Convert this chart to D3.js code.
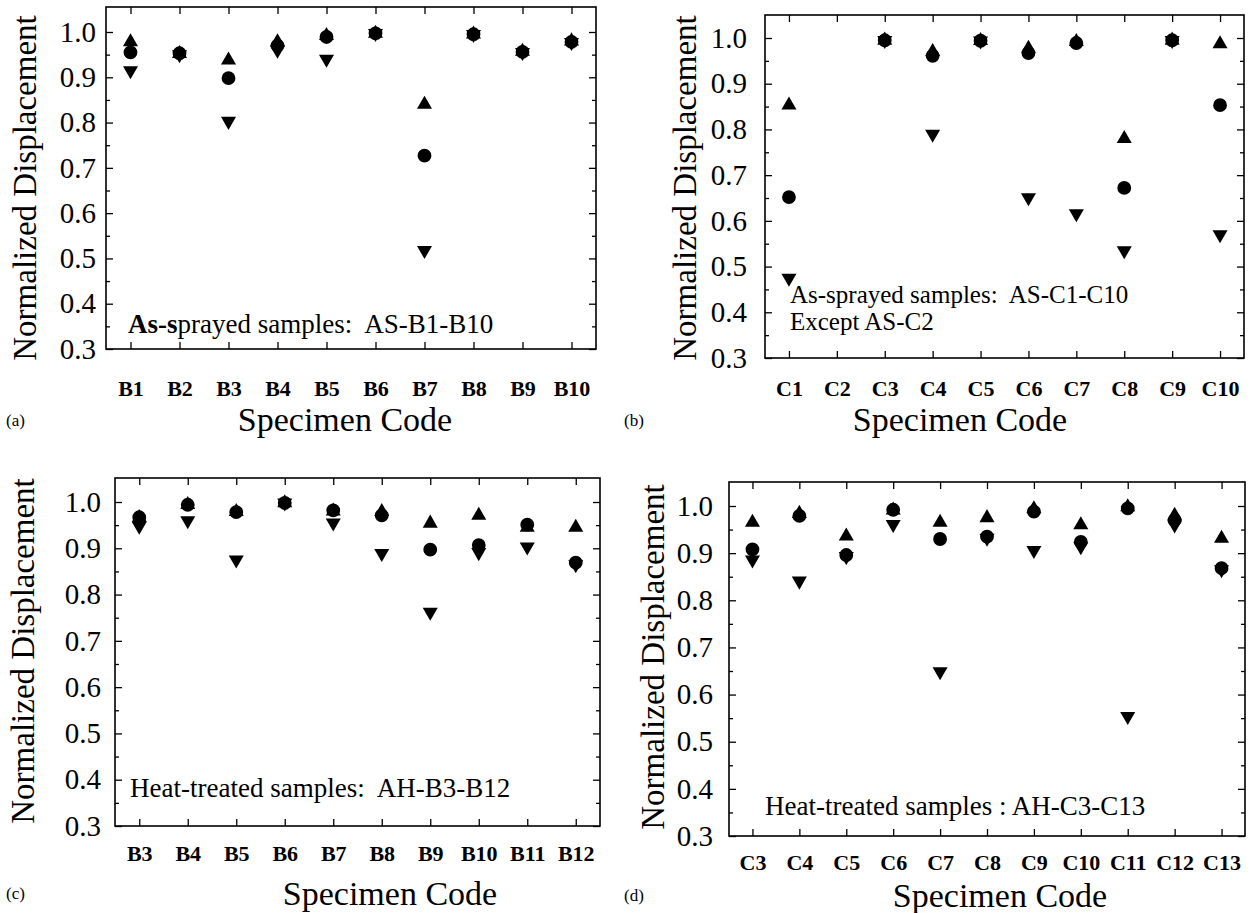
<!DOCTYPE html>
<html>
<head>
<meta charset="utf-8">
<script src="https://cdn.jsdelivr.net/npm/d3@7"></script>
<style>
  body { margin: 0; background: #fff; }
  svg { display: block; }
  text { font-family: "Liberation Serif", "Times New Roman", serif; fill: #000; white-space: pre; }
</style>
</head>
<body>
<div id="chart"></div>
<script>
// values: up triangle, dot, down triangle
const majorTicks = [0.3, 0.4, 0.5, 0.6, 0.7, 0.8, 0.9, 1.0]
const minorTicks = [0.35, 0.45, 0.55, 0.65, 0.75, 0.85, 0.95]

const codesA = ['B1', 'B2', 'B3', 'B4', 'B5', 'B6', 'B7', 'B8', 'B9', 'B10']
const upA   = [0.978, 0.952, 0.938, 0.978, 0.992, 0.997, 0.840, 0.995, 0.957, 0.980]
const dotA  = [0.955, 0.953, 0.898, 0.970, 0.989, 0.997, 0.727, 0.995, 0.956, 0.978]
const downA = [0.915, 0.950, 0.803, 0.960, 0.940, 0.997, 0.518, 0.995, 0.955, 0.977]

const codesB = ['C1', 'C2', 'C3', 'C4', 'C5', 'C6', 'C7', 'C8', 'C9', 'C10']
const upB   = [0.853, null, 0.995, 0.970, 0.994, 0.977, 0.992, 0.780, 0.995, 0.987]
const dotB  = [0.652, null, 0.995, 0.961, 0.994, 0.967, 0.989, 0.672, 0.995, 0.853]
const downB = [0.475, null, 0.995, 0.790, 0.994, 0.651, 0.616, 0.535, 0.995, 0.570]

const codesC = ['B3', 'B4', 'B5', 'B6', 'B7', 'B8', 'B9', 'B10', 'B11', 'B12']
const upC   = [0.966, 0.994, 0.979, 0.998, 0.980, 0.979, 0.954, 0.971, 0.945, 0.945]
const dotC  = [0.967, 0.994, 0.978, 0.998, 0.982, 0.971, 0.897, 0.907, 0.951, 0.869]
const downC = [0.948, 0.960, 0.875, 0.998, 0.955, 0.889, 0.762, 0.891, 0.903, 0.865]

const codesD = ['C3', 'C4', 'C5', 'C6', 'C7', 'C8', 'C9', 'C10', 'C11', 'C12', 'C13']
const upD   = [0.965, 0.984, 0.936, 0.991, 0.965, 0.975, 0.994, 0.960, 0.998, 0.980, 0.931]
const dotD  = [0.908, 0.979, 0.896, 0.992, 0.930, 0.935, 0.988, 0.924, 0.995, 0.970, 0.868]
const downD = [0.886, 0.841, 0.893, 0.961, 0.649, 0.932, 0.906, 0.914, 0.554, 0.960, 0.865]

const noteA = [[['As-s', true], ['prayed samples:  AS-B1-B10', false]]]
const noteB = [[['As-sprayed samples:  AS-C1-C10', false]], [['Except AS-C2', false]]]
const noteC = [[['Heat-treated samples:  AH-B3-B12', false]]]
const noteD = [[['Heat-treated samples : AH-C3-C13', false]]]

const yTitle = 'Normalized Displacement'
const xTitle = 'Specimen Code'

const panels = [
  { tag: '(a)', codes: codesA, up: upA, dot: dotA, down: downA, note: noteA,
    box: { l: 106, r: 596, t: 7, b: 349, y10: 32, pad: 10, catY: 396, titleX: 24, titleY: 188,
           tagX: 6, tagY: 426, codeX: 345, codeY: 431, noteX: 128, noteY: 333, noteSize: 27 } },
  { tag: '(b)', codes: codesB, up: upB, dot: dotB, down: downB, note: noteB,
    box: { l: 765, r: 1244, t: 15, b: 358, y10: 38, pad: 18, catY: 396, titleX: 684, titleY: 188,
           tagX: 624, tagY: 426, codeX: 960, codeY: 431, noteX: 790, noteY: 303, noteSize: 25 } },
  { tag: '(c)', codes: codesC, up: upC, dot: dotC, down: downC, note: noteC,
    box: { l: 115, r: 600, t: 478, b: 826, y10: 502, pad: 14, catY: 861, titleX: 22, titleY: 651,
           tagX: 6, tagY: 899, codeX: 390, codeY: 905, noteX: 130, noteY: 797, noteSize: 27 } },
  { tag: '(d)', codes: codesD, up: upD, dot: dotD, down: downD, note: noteD,
    box: { l: 729, r: 1245, t: 482, b: 836, y10: 506, pad: 16, catY: 870, titleX: 652, titleY: 657,
           tagX: 624, tagY: 901, codeX: 1000, codeY: 907, noteX: 765, noteY: 815, noteSize: 27 } }
]

const svg = d3.select('#chart')
    .append('svg')
    .attr('width', 1258)
    .attr('height', 913)

const triangle = d3.symbol().type(d3.symbolTriangle).size(98)
const circle = d3.symbol().type(d3.symbolCircle).size(150)

panels.forEach(drawPanel)

function drawPanel(p) {
  const bx = p.box
  const g = svg.append('g')

  const x = d3.scalePoint().domain(p.codes).range([bx.l, bx.r]).padding(0.5)
  const y = d3.scaleLinear().domain([0.3, 1.0]).range([bx.b, bx.y10])

  // ticks on all four sides, pointing inward
  const leftAxis = g.append('g')
      .attr('transform', 'translate(' + bx.l + ',0)')
      .call(d3.axisLeft(y).tickValues(majorTicks).tickSize(-7).tickPadding(bx.pad).tickFormat(d3.format('.1f')))
  leftAxis.selectAll('text').attr('font-size', 29)
  g.append('g')
      .attr('transform', 'translate(' + bx.l + ',0)')
      .call(d3.axisLeft(y).tickValues(minorTicks).tickSize(-4).tickFormat(''))
  g.append('g')
      .attr('transform', 'translate(' + bx.r + ',0)')
      .call(d3.axisRight(y).tickValues(majorTicks).tickSize(-7).tickFormat(''))
  g.append('g')
      .attr('transform', 'translate(' + bx.r + ',0)')
      .call(d3.axisRight(y).tickValues(minorTicks).tickSize(-4).tickFormat(''))

  const bottomAxis = g.append('g')
      .attr('transform', 'translate(0,' + bx.b + ')')
      .call(d3.axisBottom(x).tickSize(-7))
  bottomAxis.selectAll('text')
      .attr('dy', 0)
      .attr('y', bx.catY - bx.b)
      .attr('font-size', 22)
      .attr('font-weight', 'bold')
  g.append('g')
      .attr('transform', 'translate(0,' + bx.t + ')')
      .call(d3.axisTop(x).tickSize(-7).tickFormat(''))

  g.selectAll('.domain').remove()
  g.selectAll('.tick line').attr('stroke', '#000').attr('stroke-width', 1.3)
  g.selectAll('.tick text').attr('fill', '#000')
      .style('font-family', '"Liberation Serif", "Times New Roman", serif')

  g.append('rect')
      .attr('x', bx.l)
      .attr('y', bx.t)
      .attr('width', bx.r - bx.l)
      .attr('height', bx.b - bx.t)
      .attr('fill', 'none')
      .attr('stroke', '#000')
      .attr('stroke-width', 1.6)

  // markers
  const pts = (vals) => p.codes.map((c, i) => ({ c: c, v: vals[i] })).filter(d => d.v != null)

  g.selectAll('path.down')
      .data(pts(p.down))
      .enter().append('path')
      .attr('class', 'down')
      .attr('d', triangle)
      .attr('transform', d => 'translate(' + x(d.c) + ',' + y(d.v) + ') rotate(180)')
  g.selectAll('path.up')
      .data(pts(p.up))
      .enter().append('path')
      .attr('class', 'up')
      .attr('d', triangle)
      .attr('transform', d => 'translate(' + x(d.c) + ',' + y(d.v) + ')')
  g.selectAll('path.dot')
      .data(pts(p.dot))
      .enter().append('path')
      .attr('class', 'dot')
      .attr('d', circle)
      .attr('transform', d => 'translate(' + x(d.c) + ',' + y(d.v) + ')')

  // note inside the frame
  p.note.forEach((line, i) => {
    const t = g.append('text')
        .attr('x', bx.noteX)
        .attr('y', bx.noteY + i * 27)
        .attr('font-size', bx.noteSize)
    line.forEach(seg => {
      t.append('tspan')
          .attr('font-weight', seg[1] ? 'bold' : null)
          .text(seg[0])
    })
  })

  // axis titles and panel tag
  g.append('text')
      .attr('transform', 'translate(' + bx.titleX + ',' + bx.titleY + ') rotate(-90)')
      .attr('text-anchor', 'middle')
      .attr('dy', '0.35em')
      .attr('font-size', 33)
      .text(yTitle)
  g.append('text')
      .attr('x', bx.codeX)
      .attr('y', bx.codeY)
      .attr('text-anchor', 'middle')
      .attr('font-size', 34)
      .text(xTitle)
  g.append('text')
      .attr('x', bx.tagX)
      .attr('y', bx.tagY)
      .attr('font-size', 17)
      .text(p.tag)
}
</script>
</body>
</html>
